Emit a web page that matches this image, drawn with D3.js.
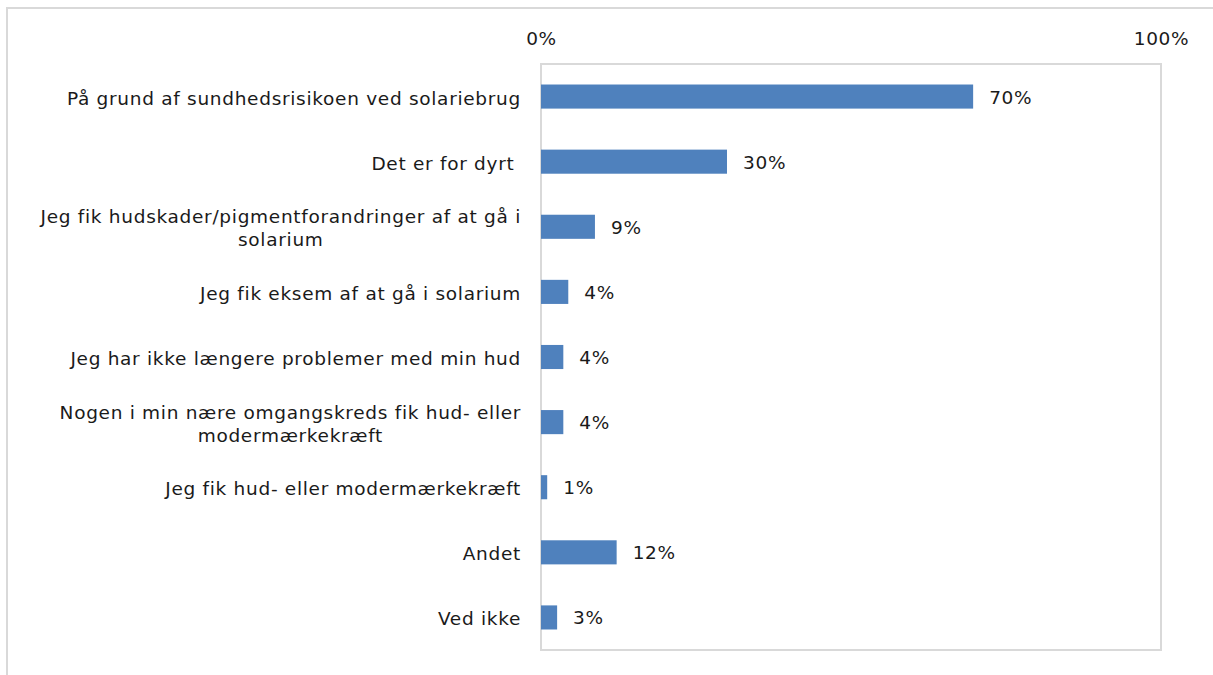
<!DOCTYPE html>
<html>
<head>
<meta charset="utf-8">
<script src="https://cdn.jsdelivr.net/npm/d3@7"></script>
<style>
	body { margin: 0; background: #fff; }
	text { font-family: "DejaVu Sans", sans-serif; fill: #1a1a1a; letter-spacing: 0.7px; white-space: pre; }
</style>
</head>
<body>
<div id="vis"></div>
<script>
// answers (lines of each label), share of respondents
const categories = [
	["På grund af sundhedsrisikoen ved solariebrug"],
	["Det er for dyrt "],
	["Jeg fik hudskader/pigmentforandringer af at gå i", "solarium"],
	["Jeg fik eksem af at gå i solarium"],
	["Jeg har ikke længere problemer med min hud"],
	["Nogen i min nære omgangskreds fik hud- eller", "modermærkekræft"],
	["Jeg fik hud- eller modermærkekræft"],
	["Andet"],
	["Ved ikke"]
]
const values = [0.697, 0.30, 0.087, 0.044, 0.036, 0.036, 0.01, 0.122, 0.026]
const tickValues = [0, 1]

const width = 1213, height = 675
const plot = {left: 541, right: 1161, top: 64, bottom: 650}
const fontSize = 18.5, lineHeight = 23

let svg = d3.select('#vis').append('svg')
	.attr('width', width)
	.attr('height', height)

// outer chart frame (only top and left edge visible)
svg.append('path')
	.attr('d', `M7,${height} V8 H${width}`)
	.attr('fill', 'none')
	.attr('stroke', '#d9d9d9')
	.attr('stroke-width', 2)

let xScale = d3.scaleLinear([0, 1], [plot.left, plot.right])
let yScale = d3.scaleBand(d3.range(categories.length), [plot.top, plot.bottom])
	.paddingInner(0.63).paddingOuter(0.315)

// plot area
svg.append('rect')
	.attr('x', plot.left)
	.attr('y', plot.top)
	.attr('width', plot.right - plot.left)
	.attr('height', plot.bottom - plot.top)
	.attr('fill', 'none')
	.attr('stroke', '#d9d9d9')
	.attr('stroke-width', 2)

// top axis labels
let xAxis = d3.axisTop(xScale)
	.tickValues(tickValues)
	.tickFormat(d3.format('.0%'))
	.tickSize(0)
	.tickPadding(0)

let ax = svg.append('g')
	.attr('transform', `translate(0, 32)`)
	.call(xAxis)
ax.select('.domain').remove()
ax.selectAll('text')
	.attr('font-size', fontSize + 'px')
	.attr('font-family', '"DejaVu Sans", sans-serif')
	.attr('fill', '#1a1a1a')
	.attr('dy', '0.71em')

// bars
svg.selectAll('.bar')
	.data(values).enter()
	.append('rect')
	.attr('class', 'bar')
	.attr('x', xScale(0))
	.attr('y', (d, i) => yScale(i))
	.attr('width', d => xScale(d) - xScale(0))
	.attr('height', yScale.bandwidth())
	.attr('fill', '#4f81bd')

// value labels
svg.selectAll('.val')
	.data(values).enter()
	.append('text')
	.attr('class', 'val')
	.attr('x', d => xScale(d) + 16)
	.attr('y', (d, i) => yScale(i) + yScale.bandwidth() / 2)
	.attr('dy', '0.38em')
	.attr('font-size', fontSize + 'px')
	.text(d => d3.format('.0%')(d))

// category labels, multi-line ones centred on their block
let labels = svg.selectAll('.cat')
	.data(categories).enter()
	.append('text')
	.attr('class', 'cat')
	.attr('font-size', fontSize + 'px')
	.attr('y', (d, i) => yScale(i) + yScale.bandwidth() / 2 + 1 - (d.length - 1) * lineHeight / 2)

labels.each(function(lines) {
	let t = d3.select(this)
	lines.forEach((l, j) => {
		t.append('tspan')
			.attr('dy', j == 0 ? '0.38em' : lineHeight)
			.text(l)
	})
})

labels.each(function(lines) {
	let t = d3.select(this)
	let spans = t.selectAll('tspan')
	let widths = spans.nodes().map(n => n.getComputedTextLength())
	let maxW = d3.max(widths)
	let right = 521
	if (lines.length == 1) {
		t.attr('text-anchor', 'end')
		spans.attr('x', right)
	} else {
		t.attr('text-anchor', 'middle')
		spans.attr('x', right - maxW / 2)
	}
})
</script>
</body>
</html>
